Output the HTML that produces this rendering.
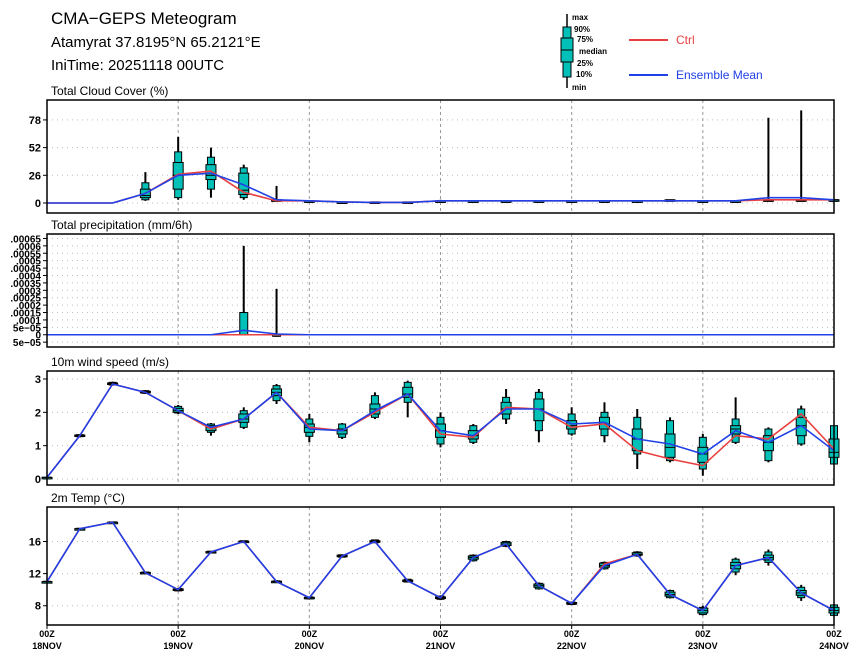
<!DOCTYPE html>
<html><head><meta charset="utf-8"><style>
body{margin:0;background:#fff;}
svg{display:block;font-family:"Liberation Sans",sans-serif;}
</style></head><body>
<svg id="chart" width="860" height="662" viewBox="0 0 860 662" xmlns="http://www.w3.org/2000/svg">
<text x="51" y="24" font-size="17">CMA−GEPS Meteogram</text>
<text x="51" y="47" font-size="15">Atamyrat 37.8195°N 65.2121°E</text>
<text x="51" y="70" font-size="15">IniTime: 20251118 00UTC</text>
<g>
 <line x1="567" y1="14" x2="567" y2="88" stroke="#000" stroke-width="1.5"/>
 <rect x="563" y="27" width="8" height="50" fill="#00c0b8" stroke="#000"/>
 <rect x="561" y="38" width="12" height="24" fill="#00c0b8" stroke="#000"/>
 <line x1="561" y1="50" x2="573" y2="50" stroke="#000"/>
 <g font-size="8" font-weight="bold">
 <text x="572" y="20">max</text><text x="574" y="32">90%</text><text x="577" y="42">75%</text>
 <text x="579" y="54">median</text><text x="577" y="66">25%</text><text x="576" y="77">10%</text><text x="572" y="90">min</text></g>
 <line x1="629" y1="40" x2="668" y2="40" stroke="#e84040" stroke-width="2"/>
 <text x="676" y="44" font-size="12" fill="#e84040">Ctrl</text>
 <line x1="629" y1="75" x2="668" y2="75" stroke="#2040e8" stroke-width="2"/>
 <text x="676" y="79" font-size="12" fill="#2040e8">Ensemble Mean</text>
</g>
<g id="plots"></g>
</svg>
<script>
const xLabels=["18NOV","19NOV","20NOV","21NOV","22NOV","23NOV","24NOV"];
const cloudMean=[0,0,0,9,26,28,17,3,2,1,0.5,0.5,2,2,2,2,2,2,2,2,2,2,5,5,3];
const cloudCtrl=[0,0,0,9,27,30,10,2,2,1,0.5,0.5,2,2,2,2,2,2,2,2,2,2,3,3,3];
const cloudBox=[null,null,null,[2,3,5,7,13,19,29],[3,5,13,26,38,48,62],[5,13,22,26,36,43,52],[3,5,8,12,28,33,36],[1,2,2,2,3,3,16],[1,1,1,2,2,2,2],[0,0,1,1,1,1,1],[0,0,0,0,1,1,1],[0,0,0,0,1,1,1],[1,1,2,2,2,2,3],[2,2,2,2,2,2,2],[2,2,2,2,2,2,2],[2,2,2,2,2,2,2],[2,2,2,2,2,2,2],[2,2,2,2,2,2,2],[2,2,2,2,2,2,2],[2,2,2,2,3,3,3],[2,2,2,2,2,2,2],[2,2,2,2,2,2,2],[2,2,2,2,3,3,80],[2,2,2,2,3,3,87],[2,2,2,3,3,3,3]];
const precMean=[0,0,0,0,0,0,0.00003,0.000005,0,0,0,0,0,0,0,0,0,0,0,0,0,0,0,0,0];
const precCtrl=[0,0,0,0,0,0,0,0,0,0,0,0,0,0,0,0,0,0,0,0,0,0,0,0,0];
const precBox=[null,null,null,null,null,null,[0,0,0,0,0.00015,0.00015,0.0006],[0,0,0,0,0,0,0.00031],null,null,null,null,null,null,null,null,null,null,null,null,null,null,null,null,null];
const windMean=[0.05,1.3,2.85,2.6,2.05,1.55,1.8,2.6,1.5,1.45,2.05,2.55,1.45,1.3,2.1,2.1,1.65,1.7,1.2,1.05,0.75,1.45,1.1,1.6,0.85];
const windCtrl=[0.05,1.3,2.85,2.6,2.05,1.5,1.8,2.6,1.55,1.45,2.0,2.55,1.35,1.25,2.15,2.1,1.55,1.65,0.85,0.6,0.4,1.3,1.2,1.95,0.9];
const windBox=[[0.05,0.05,0.05,0.05,0.05,0.05,0.08],[1.25,1.27,1.28,1.3,1.32,1.33,1.35],[2.8,2.82,2.84,2.86,2.88,2.9,2.92],[2.55,2.57,2.59,2.61,2.63,2.65,2.67],[1.95,1.98,2.0,2.05,2.12,2.18,2.22],[1.3,1.4,1.45,1.55,1.6,1.65,1.68],[1.5,1.55,1.7,1.8,1.95,2.05,2.15],[2.25,2.35,2.5,2.6,2.7,2.8,2.85],[1.1,1.28,1.4,1.55,1.65,1.8,1.95],[1.2,1.25,1.35,1.45,1.5,1.65,1.68],[1.8,1.85,1.95,2.1,2.25,2.5,2.6],[1.85,2.3,2.45,2.55,2.75,2.9,2.95],[0.95,1.05,1.25,1.45,1.65,1.85,2.0],[1.05,1.1,1.2,1.3,1.45,1.6,1.65],[1.65,1.8,1.95,2.1,2.3,2.45,2.7],[1.1,1.45,1.75,2.1,2.4,2.6,2.7],[1.3,1.35,1.5,1.6,1.75,1.95,2.15],[1.1,1.3,1.5,1.65,1.85,2.0,2.3],[0.3,0.75,0.85,1.2,1.5,1.85,2.1],[0.5,0.55,0.65,0.95,1.35,1.75,1.85],[0.1,0.3,0.5,0.75,0.95,1.25,1.35],[1.05,1.1,1.35,1.5,1.6,1.8,2.45],[0.5,0.55,0.85,1.1,1.3,1.5,1.55],[1.0,1.05,1.3,1.6,1.85,2.1,2.2],[0.45,0.45,0.65,0.8,1.2,1.6,1.6]];
const tempMean=[11,17.6,18.4,12.1,10,14.7,16,11,9,14.2,16,11.1,9,14,15.7,10.5,8.3,13,14.4,9.4,7.4,13,14,9.6,7.4];
const tempCtrl=[11,17.6,18.4,12.1,10,14.7,16,11,9,14.2,16,11.1,9,14,15.7,10.5,8.3,13.2,14.4,9.4,7.4,13,14,9.6,7.4];
const tempBox=[[10.9,10.95,11,11,11,11.05,11.1],[17.5,17.55,17.6,17.6,17.6,17.65,17.7],[18.3,18.35,18.4,18.4,18.4,18.45,18.5],[12,12,12.05,12.1,12.15,12.2,12.2],[9.8,9.85,9.9,10,10.1,10.15,10.2],[14.6,14.65,14.7,14.7,14.75,14.8,14.8],[15.9,15.95,16,16,16.05,16.1,16.1],[10.9,10.95,11,11,11.05,11.1,11.2],[8.8,8.85,8.9,9,9.05,9.1,9.1],[14,14.05,14.1,14.2,14.3,14.35,14.4],[15.8,15.85,15.9,16,16.1,16.2,16.2],[10.9,10.95,11,11.1,11.2,11.3,11.3],[8.7,8.8,8.9,9,9.1,9.2,9.3],[13.5,13.6,13.8,14,14.2,14.3,14.4],[15.3,15.4,15.5,15.7,15.9,16,16.1],[10,10.1,10.3,10.5,10.7,10.8,10.9],[8.1,8.15,8.2,8.3,8.4,8.45,8.5],[12.5,12.6,12.8,13,13.3,13.4,13.5],[14.1,14.2,14.3,14.4,14.6,14.7,14.8],[8.9,9.0,9.2,9.4,9.7,9.9,10],[6.8,6.9,7.1,7.4,7.7,7.8,8.0],[11.8,12.2,12.6,13,13.4,13.8,14],[13,13.4,13.7,14,14.3,14.7,15],[8.6,9,9.3,9.6,9.9,10.3,10.6],[6.7,6.8,7.1,7.4,7.8,8.1,8.2]];
const cloudTicks=[0,26,52,78];
const precTicks=[-0.00005,0,0.00005,0.0001,0.00015,0.0002,0.00025,0.0003,0.00035,0.0004,0.00045,0.0005,0.00055,0.0006,0.00065];
const precTickLabels=["5e−05","0","5e−05",".0001",".00015",".0002",".00025",".0003",".00035",".0004",".00045",".0005",".00055",".0006",".00065"];
const windTicks=[0,1,2,3];
const tempTicks=[8,12,16];

const NS="http://www.w3.org/2000/svg";
const X0=47,X1=834,N=24;
const xs=i=>X0+(X1-X0)*i/N;
const plots=document.getElementById('plots');
function mk(tag,attrs,parent){const e=document.createElementNS(NS,tag);for(const k in attrs)e.setAttribute(k,attrs[k]);(parent||plots).appendChild(e);return e;}

function panel(name,title,top,bot,vLo,vHi,ticks,tickLabels,mean,ctrl,box,bw){
  const g=mk('g',{});
  
  
  const ys=v=>bot-(v-vLo)/(vHi-vLo)*(bot-top);
  const t=mk('text',{x:51,y:top-5,'font-size':12},g);t.textContent=title;
  
  
  ticks.forEach((v,k)=>{const y=ys(v);
    mk('line',{x1:X0,x2:X1,y1:y,y2:y,stroke:'#bbb','stroke-dasharray':'1,4'},g);
    mk('line',{x1:X0-4,x2:X0,y1:y,y2:y,stroke:'#000'},g);
    const tl=mk('text',{x:X0-6,y:y+4,'font-size':name==='precip'?10:11,'font-weight':'bold','text-anchor':'end'},g);
    tl.textContent=tickLabels?tickLabels[k]:String(v);
    
    
  });
  for(let d=1;d<6;d++){const x=xs(d*4);mk('line',{x1:x,x2:x,y1:top,y2:bot,stroke:'#999','stroke-dasharray':'3,3'},g);}
  box.forEach((b,i)=>{if(!b)return;const x=xs(i);
    const bg=mk('g',{},g);
    
    
    mk('line',{x1:x,x2:x,y1:ys(b[0]),y2:ys(b[6]),stroke:'#000','stroke-width':2},bg);
    const h1=Math.max(ys(b[1])-ys(b[5]),1.5);
    mk('rect',{x:x-bw/2+1.5,y:ys(b[5]),width:bw-3,height:h1,fill:'#00c0b8',stroke:'#000','stroke-width':1},bg);
    const h2=Math.max(ys(b[2])-ys(b[4]),1.5);
    mk('rect',{x:x-bw/2,y:ys(b[4]),width:bw,height:h2,fill:'#00c0b8',stroke:'#000','stroke-width':1},bg);
    mk('line',{x1:x-bw/2,x2:x+bw/2,y1:ys(b[3]),y2:ys(b[3]),stroke:'#000','stroke-width':1},bg);
  });
  const pc=ctrl.map((v,i)=>xs(i)+','+ys(v)).join(' ');
  const lc=mk('polyline',{points:pc,fill:'none',stroke:'#e84040','stroke-width':1.6},g);
  
  
  const pm=mean.map((v,i)=>xs(i)+','+ys(v)).join(' ');
  const lm=mk('polyline',{points:pm,fill:'none',stroke:'#2040e8','stroke-width':1.6},g);
  
  
  mk('rect',{x:X0,y:top,width:X1-X0,height:bot-top,fill:'none',stroke:'#000','stroke-width':1.5},g);
}
panel('cloud','Total Cloud Cover (%)',100,213,-9.4,96.7,cloudTicks,null,cloudMean,cloudCtrl,cloudBox,10);
panel('precip','Total precipitation (mm/6h)',234,347,-0.0000827,0.00068,precTicks,precTickLabels,precMean,precCtrl,precBox,8);
panel('wind','10m wind speed (m/s)',371,485,-0.18,3.24,windTicks,null,windMean,windCtrl,windBox,10);
panel('temp','2m Temp (°C)',507,625,5.6,20.3,tempTicks,null,tempMean,tempCtrl,tempBox,10);
xLabels.forEach((l,d)=>{const x=xs(d*4);
  mk('line',{x1:x,x2:x,y1:625,y2:629,stroke:'#000'});
  const t1=mk('text',{x:x,y:637,'font-size':9,'font-weight':'bold','text-anchor':'middle'});t1.textContent='00Z';
  
  
  const t2=mk('text',{x:x,y:649,'font-size':9,'font-weight':'bold','text-anchor':'middle'});t2.textContent=l;
  
  
});
</script>
</body></html>
